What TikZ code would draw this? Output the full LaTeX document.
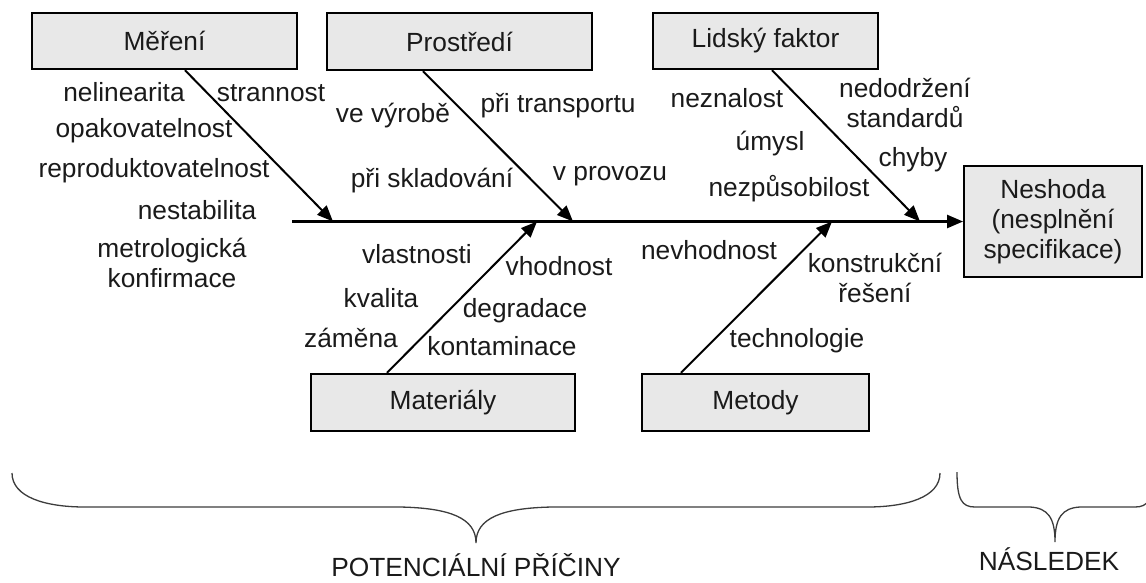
\documentclass[tikz,border=0pt]{standalone}
\usepackage{fontspec}
\setmainfont{Liberation Sans}
\usetikzlibrary{arrows.meta}
\definecolor{boxgray}{HTML}{E8E8E8}
\definecolor{txt}{HTML}{1A1A1A}
\definecolor{bracegray}{HTML}{3C3C3C}
\begin{document}
\begin{tikzpicture}[x=1pt,y=-1pt,
  fnt/.style={font=\fontsize{26.3}{30}\selectfont},
  box/.style={draw=black,line width=2.4pt,fill=boxgray,inner sep=0pt,fnt,text=txt},
  lbl/.style={inner sep=0pt,anchor=base,fnt,text=txt},
  arr/.style={line width=2pt,-{Triangle[length=16pt,width=13pt]}},
  bracepath/.style={draw=bracegray,line width=1.3pt}]
\useasboundingbox (0,0) rectangle (1146,582);
\clip (0,0) rectangle (1146,582);

% boxes
\node[box,minimum width=264.5pt,minimum height=56pt] (m) at (164.5,41) {Měření};
\node[box,minimum width=264.5pt,minimum height=57pt] (p) at (459.5,41.5) {Prostředí};
\node[box,minimum width=224.5pt,minimum height=56pt] (l) at (765.5,41) {Lidský faktor};
\node[box,minimum width=263.5pt,minimum height=57pt] (mat) at (443,402.5) {Materiály};
\node[box,minimum width=226.5pt,minimum height=57pt] (met) at (755.5,402.5) {Metody};
\node[box,minimum width=177.5pt,minimum height=111pt,align=center] (e) at (1053,221.5)
  {Neshoda\\(nesplnění\\specifikace)};

% spine
\coordinate (s0) at (292,221.5);
\draw[line width=2.4pt,-{Triangle[length=16pt,width=13pt]}] (s0) -- (e.west);

% tips on spine
\coordinate (t1) at (333,221.5);
\coordinate (t2) at (573,221.5);
\coordinate (t3) at (920,221.5);
\coordinate (t4) at (537,221.5);
\coordinate (t5) at (832,221.5);

% branches
\draw[arr] ([xshift=20.5pt]m.south) -- (t1);
\draw[arr] ([xshift=-36.5pt]p.south) -- (t2);
\draw[arr] ([xshift=6.5pt]l.south) -- (t3);
\draw[arr] ([xshift=-56pt]mat.north) -- (t4);
\draw[arr] ([xshift=-74.5pt]met.north) -- (t5);

% labels: Měření
\node[lbl] (a1) at (124,101) {nelinearita};
\node[lbl] (a2) at (271,101) {strannost};
\node[lbl] (a3) at (144,137) {opakovatelnost};
\node[lbl] (a4) at (154,177) {reproduktovatelnost};
\node[lbl] (a5) at (197,219) {nestabilita};
\node[lbl] (a6) at (172,257) {metrologická};
\node[lbl] (a7) at (172,287) {konfirmace};

% labels: Prostředí
\node[lbl] (b1) at (393,122) {ve výrobě};
\node[lbl] (b2) at (558,112) {při transportu};
\node[lbl] (b3) at (432,187) {při skladování};
\node[lbl] (b4) at (610,180) {v provozu};

% labels: Lidský faktor
\node[lbl] (c1) at (727,107) {neznalost};
\node[lbl] (c2) at (770,150) {úmysl};
\node[lbl] (c3) at (789,196) {nezpůsobilost};
\node[lbl] (c4) at (905,97) {nedodržení};
\node[lbl] (c5) at (905,127) {standardů};
\node[lbl] (c6) at (913,166) {chyby};

% labels: Materiály
\node[lbl] (d1) at (417,263) {vlastnosti};
\node[lbl] (d2) at (381,307) {kvalita};
\node[lbl] (d3) at (351,347) {záměna};
\node[lbl] (d4) at (559,275) {vhodnost};
\node[lbl] (d5) at (525,317) {degradace};
\node[lbl] (d6) at (502,355) {kontaminace};

% labels: Metody
\node[lbl] (f1) at (709,259) {nevhodnost};
\node[lbl] (f2) at (875,272) {konstrukční};
\node[lbl] (f3) at (875,302) {řešení};
\node[lbl] (f4) at (797,347) {technologie};

% braces
\draw[bracepath] (12,473) .. controls (12,497) and (45,507) .. (85,507)
  -- (400,507) .. controls (450,508) and (476,518) .. (476,543)
  .. controls (476,518) and (502,508) .. (552,507)
  -- (867,507) .. controls (907,507) and (940,497) .. (940,473);
\draw[bracepath] (957,472) .. controls (957,500) and (962,507) .. (975,507)
  -- (1030,507) .. controls (1048,508) and (1055,518) .. (1055,542)
  .. controls (1055,518) and (1062,508) .. (1080,507)
  -- (1135,507) .. controls (1148,507) and (1153,500) .. (1153,472);

\node[lbl] (g1) at (476,576) {POTENCIÁLNÍ PŘÍČINY};
\node[lbl] (g2) at (1049,570) {NÁSLEDEK};
\end{tikzpicture}
\end{document}
